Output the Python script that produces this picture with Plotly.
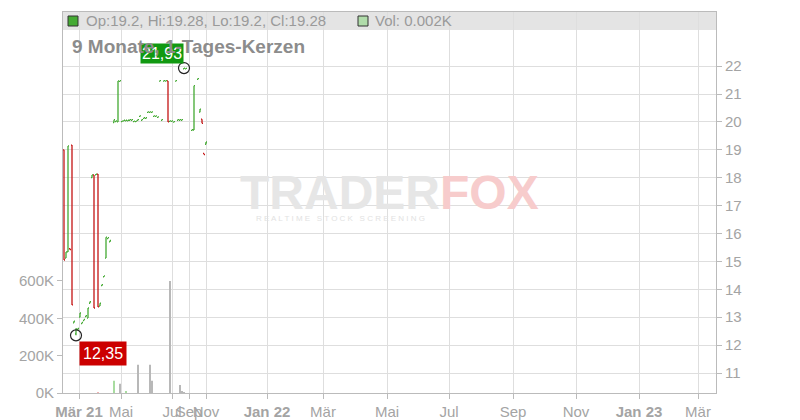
import plotly.graph_objects as go

N = None
# one entry per trading session (session index = position in list)
opens = [19.00, 15.12, 15.34, 15.46, 19.17, 12.80, 12.40, 12.55, 13.00, 12.77, 12.88, 13.02,
         12.97, 13.50, 18.00, 18.10, 18.10, 18.13, 13.40, 14.13, 14.45, 15.12, 15.82, 15.70,
         N, 19.98, 20.01, 20.00, 21.45, 20.01, 20.04, 20.04, 20.04, 20.06, 20.06, 20.01,
         20.01, 20.06, 20.20, 20.06, 20.13, 20.13, 20.34, 20.34, 20.34, 20.20, 20.20, 20.16,
         21.46, 20.06, 21.46, 21.46, 21.47, 20.02, 20.02, 19.99, 21.46, 20.06, 20.06, 20.06,
         21.90, 21.90, N, N, 19.70, 19.71, N, 21.53, 20.35, 20.10, 18.87, 19.20]
highs = [19.00, 15.34, 19.14, 15.46, 19.17, 12.86, 12.60, 12.60, 13.15, 12.81, 12.92, 13.06,
         13.33, 13.56, 18.10, 18.10, 18.13, 18.13, 13.50, 14.17, 14.48, 15.87, 15.85, 15.75,
         N, 20.08, 20.04, 21.47, 21.48, 20.03, 20.06, 20.06, 20.06, 20.08, 20.08, 20.03,
         20.03, 20.08, 20.22, 20.08, 20.15, 20.15, 20.36, 20.36, 20.36, 20.22, 20.22, 20.18,
         21.48, 20.08, 21.48, 21.48, 21.47, 20.04, 20.04, 20.01, 21.48, 20.08, 20.08, 20.08,
         21.93, 21.92, N, N, 19.72, 21.30, N, 21.55, 20.46, 20.10, 18.87, 19.28]
lows = [15.05, 15.12, 15.34, 15.42, 13.44, 12.80, 12.35, 12.55, 13.00, 12.77, 12.88, 13.02,
        12.97, 13.50, 18.00, 13.33, 18.10, 13.37, 13.40, 14.13, 14.45, 15.12, 15.82, 15.70,
        N, 19.98, 20.01, 20.00, 21.45, 20.01, 20.04, 20.04, 20.04, 20.06, 20.06, 20.01,
        20.01, 20.06, 20.20, 20.06, 20.13, 20.13, 20.34, 20.34, 20.34, 20.20, 20.20, 20.16,
        21.46, 20.06, 21.46, 21.46, 20.00, 20.02, 20.02, 19.99, 21.46, 20.06, 20.06, 20.06,
        21.90, 21.90, N, N, 19.70, 19.71, N, 21.53, 20.35, 19.95, 18.83, 19.20]
closes = [15.05, 15.34, 19.14, 15.42, 13.44, 12.86, 12.58, 12.60, 13.15, 12.81, 12.92, 13.06,
          13.33, 13.56, 18.10, 13.33, 18.13, 13.37, 13.50, 14.17, 14.48, 15.87, 15.85, 15.75,
          N, 20.08, 20.04, 21.47, 21.48, 20.03, 20.06, 20.06, 20.06, 20.08, 20.08, 20.03,
          20.03, 20.08, 20.22, 20.08, 20.15, 20.15, 20.36, 20.36, 20.36, 20.22, 20.22, 20.18,
          21.48, 20.08, 21.48, 21.48, 20.00, 20.04, 20.04, 20.01, 21.48, 20.08, 20.08, 20.08,
          21.93, 21.92, N, N, 19.72, 21.30, N, 21.55, 20.46, 19.95, 18.83, 19.28]
# volume in thousands, per session
volume_k = [0, 0, 0, 0, 0, 0, 0, 0, 0, 0, 0, 0,
            0, 0, 0, 0, 0, 5, 0, 0, 0, 0, 0, 0,
            0, 65, 0, 0, 49, 0, 0, 11, 0, 0, 0, 0,
            0, 151, 0, 0, 0, 0, 0, 151, 65, 0, 0, 0,
            0, 0, 0, 0, 0, 600, 0, 0, 0, 0, 43, 11,
            5, 0, 0, 0, 0, 0, 0, 0, 0, 0, 0, 0]
vol_up_sessions = [25, 31]
vol_down_sessions = [17]

tick_pos = [7.5, 28.5, 54, 62.5, 71, 101.5, 129.5, 161.5, 192.5, 224.5, 256, 287.5, 317]
tick_text = ["<b>Mär 21</b>", "Mai", "Jul", "Sep", "Nov", "<b>Jan 22</b>", "Mär", "Mai",
             "Jul", "Sep", "Nov", "<b>Jan 23</b>", "Mär"]
price_ticks = [11, 12, 13, 14, 15, 16, 17, 18, 19, 20, 21, 22]
vol_ticks = [0, 200, 400, 600]
vol_tick_text = ["0K", "200K", "400K", "600K"]
header_text = "Op:19.2, Hi:19.28, Lo:19.2, Cl:19.28"
vol_text = "Vol: 0.002K"
title_text = "9 Monate, 1-Tages-Kerzen"

sessions = list(range(len(opens)))

GREEN = "#44aa33"
RED = "#c41414"
GRID = "#dedede"
AXIS = "#bbbbbb"
TXT = "#a4a4a4"
FONT = "Liberation Sans, Arial, sans-serif"

# page body has an 8px margin; figure sized to fill the rest of the window
OFF = 8
W, H = 792, 412
ML, MR, MT, MB = 55, 84, 4, 27
PW, PH = W - ML - MR, H - MT - MB


def px_x(p):
    return (p - OFF - ML) / PW


def px_y(p):
    return (H - MB - (p - OFF)) / PH


vol_colors = []
for i in sessions:
    if i in vol_up_sessions:
        vol_colors.append("#a8dca0")
    elif i in vol_down_sessions:
        vol_colors.append("#f2b4b4")
    else:
        vol_colors.append("#b8b8b8")

fig = go.Figure()
fig.add_trace(go.Bar(x=sessions, y=volume_k, marker=dict(color=vol_colors, line=dict(width=0)),
                     width=0.55, yaxis="y", hoverinfo="skip"))
fig.add_trace(go.Ohlc(
    x=sessions, open=opens, high=highs, low=lows, close=closes, yaxis="y2",
    increasing=dict(line=dict(color=GREEN, width=1.3)),
    decreasing=dict(line=dict(color=RED, width=1.3)),
    tickwidth=0.5,
))

valid = [i for i in sessions if highs[i] is not None]
hi_idx = max(valid, key=lambda i: highs[i])
lo_idx = min(valid, key=lambda i: lows[i])
fig.add_trace(go.Scatter(x=[hi_idx, lo_idx], y=[highs[hi_idx], lows[lo_idx]], yaxis="y2",
                         mode="markers",
                         marker=dict(symbol="circle-open", size=11, color="#222222",
                                     line=dict(width=1.2, color="#222222")),
                         hoverinfo="skip"))

fmt = lambda v: f"{v:.2f}".replace(".", ",")
annotations = [
    dict(x=hi_idx, y=highs[hi_idx], xref="x", yref="y2", text=fmt(highs[hi_idx]),
         showarrow=False, xanchor="right", yanchor="bottom", yshift=4, xshift=0,
         bgcolor="#119911", borderpad=1, font=dict(color="white", size=16, family=FONT)),
    dict(x=lo_idx, y=lows[lo_idx], xref="x", yref="y2", text=fmt(lows[lo_idx]),
         showarrow=False, xanchor="left", yanchor="top", yshift=-6, xshift=3,
         bgcolor="#cc0000", borderpad=3, font=dict(color="white", size=16, family=FONT)),
    dict(x=px_x(84), y=px_y(21), xref="paper", yref="paper", text=header_text,
         showarrow=False, xanchor="left", yanchor="middle",
         font=dict(color="#9a9a9a", size=15, family=FONT)),
    dict(x=px_x(373), y=px_y(21), xref="paper", yref="paper", text=vol_text,
         showarrow=False, xanchor="left", yanchor="middle",
         font=dict(color="#9a9a9a", size=15, family=FONT)),
    dict(x=px_x(70), y=px_y(47), xref="paper", yref="paper", text="<b>" + title_text + "</b>",
         showarrow=False, xanchor="left", yanchor="middle",
         font=dict(color="#8c8c8c", size=19, family=FONT)),
    dict(x=px_x(390), y=px_y(192), xref="paper", yref="paper",
         text="<b><span style='color:#e6e6e6'>TRADER</span><span style='color:#f7cccc'>FOX</span></b>",
         showarrow=False, xanchor="center", yanchor="middle",
         font=dict(size=48, family=FONT)),
    dict(x=px_x(340), y=px_y(218), xref="paper", yref="paper",
         text="R E A L T I M E   S T O C K   S C R E E N I N G",
         showarrow=False, xanchor="center", yanchor="middle",
         font=dict(size=8, color="#e2e2e2", family=FONT)),
]

shapes = [
    dict(type="rect", xref="paper", yref="paper", x0=0, x1=1, y0=px_y(30), y1=1,
         fillcolor="#e4e4e4", line=dict(width=0), layer="below"),
    dict(type="rect", xref="paper", yref="paper", x0=px_x(68), x1=px_x(78), y0=px_y(26), y1=px_y(16),
         fillcolor=GREEN, line=dict(width=1, color="#333333")),
    dict(type="rect", xref="paper", yref="paper", x0=px_x(358), x1=px_x(368), y0=px_y(26), y1=px_y(16),
         fillcolor="#b0dcaa", line=dict(width=1, color="#333333")),
]

fig.update_layout(
    width=W, height=H, margin=dict(l=ML, r=MR, t=MT, b=MB, autoexpand=False),
    paper_bgcolor="white", plot_bgcolor="white", showlegend=False,
    font=dict(family=FONT, color=TXT, size=15),
    annotations=annotations, shapes=shapes,
    xaxis=dict(range=[-0.5, 326], tickvals=tick_pos, ticktext=tick_text, tickangle=0,
               automargin=False,
               showgrid=True, gridcolor=GRID, gridwidth=1, zeroline=False,
               showline=True, linecolor=AXIS, mirror=True, ticks="outside", ticklen=5,
               tickcolor=AXIS, tickfont=dict(size=15, color=TXT),
               rangeslider=dict(visible=False), fixedrange=True),
    yaxis=dict(side="left", range=[0, 2040], tickvals=vol_ticks, ticktext=vol_tick_text,
               automargin=False,
               showgrid=False, zeroline=False, showline=True, linecolor=AXIS,
               ticks="outside", ticklen=5, tickcolor=AXIS, tickfont=dict(size=15, color=TXT)),
    yaxis2=dict(side="right", overlaying="y", range=[10.283, 23.94], tickvals=price_ticks,
                automargin=False,
                showgrid=True, gridcolor=GRID, zeroline=False, showline=True, linecolor=AXIS,
                ticks="outside", ticklen=5, tickcolor=AXIS, tickfont=dict(size=15, color=TXT)),
)

fig.write_html("out.html")
